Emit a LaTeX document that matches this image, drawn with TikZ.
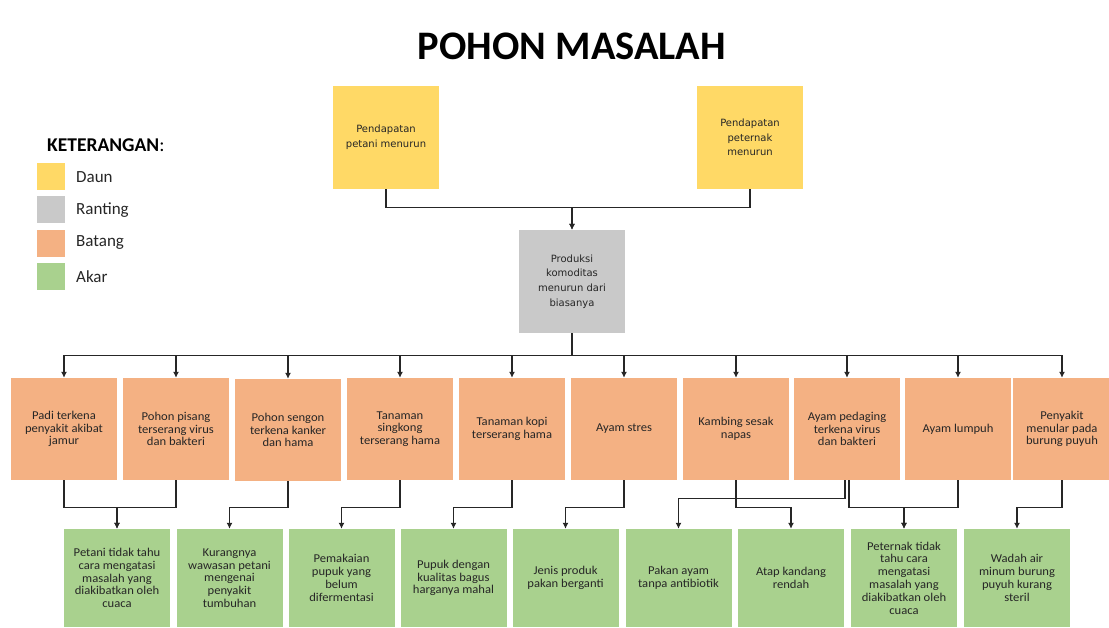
\documentclass[tikz,border=0pt]{standalone}
\usepackage{fontspec}
\setmainfont{Carlito}
\newfontfamily\boxfont[FakeStretch=1.05]{Carlito}
\newfontfamily\topfont{DejaVu Sans}
\usetikzlibrary{arrows.meta}
\definecolor{daun}{HTML}{FFD966}
\definecolor{ranting}{HTML}{C9C9C9}
\definecolor{batang}{HTML}{F4B183}
\definecolor{akar}{HTML}{A9D18E}
\definecolor{linec}{HTML}{262626}
\definecolor{txt}{HTML}{262626}
\begin{document}
\begin{tikzpicture}[x=1pt,y=-1pt,
 box/.style={rectangle, inner sep=0pt, align=center, text=txt},
 leaf/.style={box, fill=daun, minimum width=106pt, minimum height=103pt, font=\topfont\fontsize{10}{14.7}\selectfont},
 twig/.style={box, fill=ranting, minimum width=106pt, minimum height=103pt, font=\topfont\fontsize{10}{14.7}\selectfont},
 trunk/.style={box, fill=batang, minimum width=106pt, minimum height=102pt, font=\boxfont\fontsize{12}{12.8}\selectfont},
 root/.style={box, fill=akar, minimum width=106pt, minimum height=98pt, font=\boxfont\fontsize{12}{12.8}\selectfont},
 conn/.style={draw=linec, line width=1.1pt},
 arr/.style={conn, -{Latex[length=6pt,width=6pt]}},
 swatch/.style={rectangle, inner sep=0pt, minimum width=28pt, minimum height=27pt},
 legtext/.style={anchor=west, inner sep=0pt, font=\fontsize{17}{20}\selectfont, text=txt}]

\useasboundingbox (0,0) rectangle (1109,628);

% title
\node[inner sep=0pt, font=\bfseries\fontsize{40.5}{48}\selectfont, text=black] (title) at (572,46) {POHON MASALAH};

% legend
\node[anchor=west, inner sep=0pt, font=\bfseries\fontsize{19.5}{22}\selectfont, text=black] (ket) at (47,145) {KETERANGAN{\mdseries:}};
\node[swatch, fill=daun] (s1) at (51,176.5) {};
\node[swatch, fill=ranting] (s2) at (51,210) {};
\node[swatch, fill=batang] (s3) at (51,244) {};
\node[swatch, fill=akar] (s4) at (51,277) {};
\node[legtext] (l1) at (76,177) {Daun};
\node[legtext] (l2) at (76,210) {Ranting};
\node[legtext] (l3) at (76,243) {Batang};
\node[legtext] (l4) at (76,277) {Akar};

% leaves and twig
\node[leaf] (y1) at (386,137.5) {Pendapatan\\petani menurun};
\node[leaf] (y2) at (750,137.5) {Pendapatan\\peternak\\menurun};
\node[twig] (g) at (572,281.5) {Produksi\\komoditas\\menurun dari\\biasanya};

% trunk row
\node[trunk] (o1) at (64,429) {Padi terkena\\penyakit akibat\\jamur};
\node[trunk] (o2) at (176,429) {Pohon pisang\\terserang virus\\dan bakteri};
\node[trunk] (o3) at (288,430) {Pohon sengon\\terkena kanker\\dan hama};
\node[trunk] (o4) at (400,429) {Tanaman\\singkong\\terserang hama};
\node[trunk] (o5) at (512,429) {Tanaman kopi\\terserang hama};
\node[trunk] (o6) at (624,429) {Ayam stres};
\node[trunk] (o7) at (736,429) {Kambing sesak\\napas};
\node[trunk] (o8) at (847,429) {Ayam pedaging\\terkena virus\\dan bakteri};
\node[trunk] (o9) at (958,429) {Ayam lumpuh};
\node[trunk, minimum width=98pt] (o10) at (1062,429) {Penyakit\\menular pada\\burung puyuh};

% root row
\node[root] (r1) at (117,578) {Petani tidak tahu\\cara mengatasi\\masalah yang\\diakibatkan oleh\\cuaca};
\node[root] (r2) at (229.5,578) {Kurangnya\\wawasan petani\\mengenai\\penyakit\\tumbuhan};
\node[root] (r3) at (341.5,578) {Pemakaian\\pupuk yang\\belum\\difermentasi};
\node[root] (r4) at (453.5,578) {Pupuk dengan\\kualitas bagus\\harganya mahal};
\node[root] (r5) at (565.5,578) {Jenis produk\\pakan berganti};
\node[root] (r6) at (678.5,578) {Pakan ayam\\tanpa antibiotik};
\node[root] (r7) at (791,578) {Atap kandang\\rendah};
\node[root] (r8) at (904,578) {Peternak tidak\\tahu cara\\mengatasi\\masalah yang\\diakibatkan oleh\\cuaca};
\node[root] (r9) at (1017,578) {Wadah air\\minum burung\\puyuh kurang\\steril};

% connectors: leaves -> twig
\draw[arr] (y1.south) -- ++(0,18) -| (g.north);
\draw[arr] (y2.south) -- ++(0,18) -| (g.north);

% twig -> trunk
\foreach \i in {1,...,10} {
  \draw[arr] (g.south) -- ++(0,22) -| (o\i.north);
}

% trunk -> roots
\draw[arr] (o1.south) -- ++(0,27) -| (r1.north);
\draw[arr] (o2.south) -- ++(0,27) -| (r1.north);
\draw[arr] (o3.south) -- ++(0,26) -| (r2.north);
\draw[arr] (o4.south) -- ++(0,27) -| (r3.north);
\draw[arr] (o5.south) -- ++(0,27) -| (r4.north);
\draw[arr] (o6.south) -- ++(0,27) -| (r5.north);
\draw[arr] ([xshift=-2pt]o8.south) -- ++(0,18) -| (r6.north);
\draw[arr] (o7.south) -- ++(0,27) -| (r7.north);
\draw[arr] ([xshift=2pt]o8.south) -- ++(0,27) -| (r8.north);
\draw[arr] (o9.south) -- ++(0,27) -| (r8.north);
\draw[arr] (o10.south) -- ++(0,27) -| (r9.north);
\end{tikzpicture}
\end{document}
